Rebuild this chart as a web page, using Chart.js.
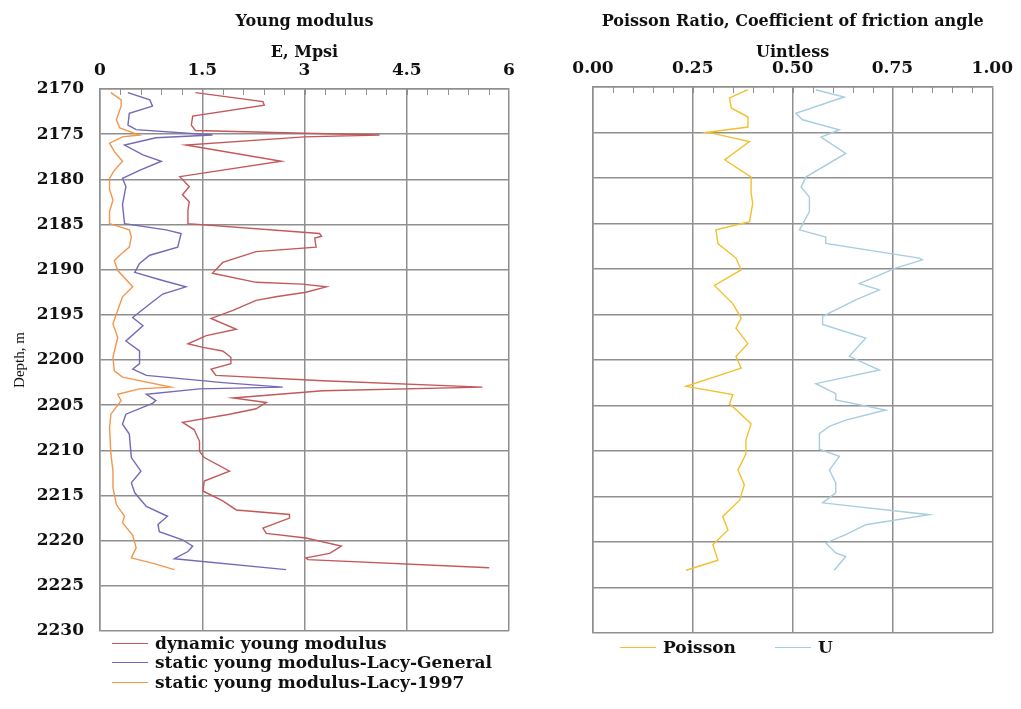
<!DOCTYPE html>
<html>
<head>
<meta charset="utf-8">
<script src="https://cdn.jsdelivr.net/npm/chart.js@4/dist/chart.umd.min.js"></script>
<style>
  body { margin: 0; background: #fff; }
  #page { position: relative; width: 1021px; height: 709px; overflow: hidden; }
  .box { position: absolute; top: 0; height: 709px; }
  #leftBox { left: 0; width: 530px; }
  #rightBox { left: 540px; width: 481px; }
  .legend { position: absolute; font: bold 17px "DejaVu Serif", serif; color: #111; }
  .legend .item { position: absolute; display: flex; align-items: center; white-space: nowrap; }
  .legend .swatch { display: inline-block; width: 36px; height: 0; border-top-width: 1.5px; border-top-style: solid; margin-right: 7px; }
</style>
</head>
<body>
<div id="page">
  <div class="box" id="leftBox"><canvas id="youngChart"></canvas></div>
  <div class="box" id="rightBox"><canvas id="poissonChart"></canvas></div>
  <div class="legend" id="youngLegend"></div>
  <div class="legend" id="poissonLegend"></div>
</div>
<script>
// Depth axis
const depthMin = 2170;
const depthMax = 2230;

// Young modulus panel, x ticks in Mpsi
const eTicks = [0, 1.5, 3, 4.5, 6];

// dynamic young modulus
const dynDepth = [2170.4, 2171.4, 2171.8, 2173.0, 2174.0, 2174.6, 2174.9, 2175.1, 2175.3, 2176.2, 2178.0, 2179.7,
  2180.8, 2181.7, 2182.5, 2183.4, 2184.9, 2186.0, 2186.3, 2186.5, 2187.5, 2188.0, 2189.2, 2190.4, 2191.4, 2191.6,
  2191.9, 2192.5, 2193.0, 2193.4, 2194.5, 2195.4, 2196.6, 2197.3, 2198.2, 2198.6, 2199.0, 2199.7, 2200.4, 2201.0,
  2201.7, 2202.3, 2203.0, 2203.4, 2204.2, 2204.7, 2205.4, 2206.0, 2206.9, 2207.7, 2209.0, 2210.1, 2210.8, 2212.3,
  2213.4, 2214.5, 2215.6, 2216.6, 2217.1, 2217.5, 2218.6, 2219.2, 2219.7, 2220.6, 2221.4, 2221.9, 2222.1, 2223.0];
const dynE = [1.40, 2.39, 2.41, 1.36, 1.34, 1.40, 3.00, 4.10, 3.00, 1.26, 2.66, 1.17,
  1.31, 1.21, 1.31, 1.29, 1.29, 3.22, 3.25, 3.15, 3.17, 2.29, 1.80, 1.65, 2.29, 2.97,
  3.32, 3.02, 2.58, 2.29, 1.95, 1.63, 2.00, 1.56, 1.29, 1.51, 1.80, 1.92, 1.92, 1.63,
  1.70, 3.27, 5.61, 3.27, 1.95, 2.44, 2.29, 1.90, 1.21, 1.38, 1.46, 1.46, 1.53, 1.90,
  1.53, 1.51, 1.80, 2.00, 2.78, 2.78, 2.39, 2.44, 3.02, 3.54, 3.37, 3.02, 3.05, 5.71];

// static young modulus - Lacy General
const genDepth = [2170.4, 2171.2, 2171.9, 2172.7, 2174.0, 2174.5, 2175.1, 2175.4, 2176.2, 2177.3, 2178.0, 2179.0,
  2179.9, 2180.8, 2182.8, 2184.9, 2185.6, 2186.0, 2187.5, 2188.4, 2189.3, 2190.3, 2191.2, 2191.9, 2192.7, 2193.8,
  2195.3, 2196.2, 2197.9, 2199.0, 2200.4, 2201.0, 2201.7, 2202.5, 2203.0, 2203.2, 2203.8, 2204.5, 2204.8, 2206.0,
  2207.1, 2208.2, 2210.8, 2212.3, 2213.6, 2214.7, 2216.2, 2217.3, 2218.2, 2219.0, 2219.9, 2220.6, 2221.2, 2222.0, 2223.2];
const genE = [0.41, 0.73, 0.77, 0.43, 0.41, 0.53, 1.65, 0.82, 0.36, 0.63, 0.90, 0.58,
  0.33, 0.38, 0.33, 0.36, 0.97, 1.19, 1.14, 0.73, 0.58, 0.51, 0.92, 1.26, 0.92, 0.73,
  0.48, 0.63, 0.38, 0.58, 0.58, 0.48, 0.68, 1.80, 2.68, 1.46, 0.68, 0.82, 0.77, 0.38,
  0.33, 0.43, 0.46, 0.60, 0.46, 0.51, 0.68, 0.99, 0.85, 0.87, 1.21, 1.36, 1.29, 1.09, 2.73];

// static young modulus - Lacy 1997
const lacyDepth = [2170.4, 2171.2, 2171.9, 2173.4, 2174.3, 2175.1, 2175.3, 2176.0, 2176.9, 2178.0, 2179.0, 2179.9,
  2181.1, 2182.3, 2183.6, 2184.9, 2185.6, 2186.4, 2187.5, 2188.4, 2189.0, 2190.1, 2191.9, 2193.0, 2194.5, 2196.0,
  2197.5, 2199.7, 2201.2, 2201.9, 2203.0, 2203.2, 2203.8, 2204.5, 2206.0, 2207.5, 2210.4, 2212.3, 2214.1, 2216.0,
  2217.3, 2218.0, 2219.4, 2220.8, 2221.9, 2222.6, 2223.2];
const lacyE = [0.16, 0.31, 0.31, 0.24, 0.29, 0.58, 0.33, 0.14, 0.21, 0.33, 0.21, 0.14,
  0.14, 0.19, 0.14, 0.14, 0.43, 0.46, 0.43, 0.29, 0.21, 0.26, 0.48, 0.33, 0.26, 0.19,
  0.26, 0.19, 0.21, 0.33, 1.04, 0.58, 0.26, 0.31, 0.16, 0.14, 0.16, 0.19, 0.19, 0.24,
  0.36, 0.33, 0.48, 0.53, 0.46, 0.82, 1.09];

// Poisson / friction panel, x ticks unitless
const ratioTicks = [0, 0.25, 0.5, 0.75, 1];

const poissonDepth = [2170.3, 2171.2, 2172.3, 2173.3, 2174.4, 2175.0, 2175.1, 2176.0, 2178.0, 2179.9, 2181.7, 2182.8,
  2184.8, 2185.7, 2187.2, 2188.8, 2190.1, 2191.8, 2193.8, 2195.4, 2196.5, 2198.2, 2199.6, 2200.9, 2202.9, 2203.8,
  2204.8, 2207.0, 2208.8, 2210.3, 2212.1, 2213.7, 2215.4, 2217.2, 2218.7, 2220.3, 2222.0, 2223.1];
const poissonVal = [0.388, 0.342, 0.346, 0.388, 0.388, 0.283, 0.300, 0.392, 0.330, 0.396, 0.396, 0.400,
  0.392, 0.308, 0.313, 0.358, 0.371, 0.304, 0.350, 0.371, 0.358, 0.388, 0.358, 0.371, 0.233, 0.350,
  0.342, 0.396, 0.383, 0.383, 0.363, 0.379, 0.367, 0.325, 0.338, 0.300, 0.313, 0.233];

const uDepth = [2170.3, 2171.1, 2172.9, 2173.6, 2174.7, 2175.5, 2177.3, 2179.9, 2181.0, 2182.1, 2183.7, 2185.7,
  2186.5, 2187.2, 2188.8, 2189.0, 2189.9, 2191.6, 2192.3, 2193.4, 2195.2, 2196.1, 2197.6, 2199.6, 2201.1, 2202.6,
  2203.7, 2204.4, 2205.5, 2206.6, 2207.3, 2208.1, 2209.8, 2210.6, 2212.1, 2213.5, 2214.6, 2215.7, 2217.0, 2218.1,
  2219.2, 2220.1, 2221.2, 2221.6, 2223.1];
const uVal = [0.558, 0.629, 0.508, 0.525, 0.617, 0.571, 0.633, 0.533, 0.521, 0.542, 0.542, 0.517,
  0.583, 0.583, 0.817, 0.825, 0.758, 0.667, 0.717, 0.658, 0.575, 0.575, 0.683, 0.642, 0.717, 0.558,
  0.608, 0.608, 0.733, 0.633, 0.592, 0.567, 0.567, 0.617, 0.592, 0.608, 0.608, 0.575, 0.842, 0.683,
  0.633, 0.583, 0.608, 0.633, 0.604];

const toPoints = (xs, depths) => xs.map((v, i) => ({ x: v, y: depths[i] }));

const serif = '"DejaVu Serif", serif';
const gridColor = '#8f8f8f';

// short tick marks along the inside of the top border
const minorTicks = {
  id: 'minorTicks',
  afterDatasetsDraw(chart, args, opts) {
    const { ctx, chartArea, scales: { x } } = chart;
    ctx.save();
    ctx.strokeStyle = gridColor;
    ctx.lineWidth = 1;
    for (let v = x.min + opts.step; v < x.max - 1e-9; v += opts.step) {
      const px = Math.round(x.getPixelForValue(v)) + 0.5;
      ctx.beginPath();
      ctx.moveTo(px, chartArea.top);
      ctx.lineTo(px, chartArea.top + 6);
      ctx.stroke();
    }
    ctx.restore();
  }
};

function logChart(canvasId, cfg) {
  const ctx = document.getElementById(canvasId).getContext('2d');
  return new Chart(ctx, {
    type: 'scatter',
    data: {
      datasets: cfg.series.map(s => ({
        label: s.label,
        data: s.data,
        showLine: true,
        borderColor: s.color,
        backgroundColor: s.color,
        borderWidth: 1.4,
        pointRadius: 0,
        tension: 0
      }))
    },
    plugins: [minorTicks],
    options: {
      responsive: true,
      maintainAspectRatio: false,
      animation: false,
      layout: { padding: cfg.padding },
      scales: {
        x: {
          type: 'linear',
          position: 'top',
          min: cfg.ticks[0],
          max: cfg.ticks[cfg.ticks.length - 1],
          afterBuildTicks: scale => { scale.ticks = cfg.ticks.map(v => ({ value: v })); },
          afterFit: scale => { scale.height = cfg.top; },
          grid: { color: gridColor, lineWidth: 1.5, drawTicks: false },
          border: { color: gridColor, width: 1.5 },
          ticks: {
            padding: 8,
            color: '#111',
            font: { family: serif, size: 17, weight: 'bold' },
            callback: cfg.tickFormat
          },
          title: {
            display: true,
            text: cfg.title,
            color: '#111',
            padding: { top: 6, bottom: 0 },
            font: { family: serif, size: 16, weight: 'bold', lineHeight: 1.94 }
          }
        },
        y: {
          type: 'linear',
          reverse: true,
          min: depthMin,
          max: depthMax,
          afterFit: scale => { scale.width = cfg.left; },
          grid: { color: gridColor, lineWidth: 1.5, drawTicks: false },
          border: { color: gridColor, width: 1.5 },
          ticks: {
            display: cfg.showDepth,
            stepSize: 5,
            padding: 16,
            color: '#111',
            font: { family: serif, size: 17, weight: 'bold' },
            callback: v => String(v)
          },
          title: {
            display: cfg.showDepth,
            text: 'Depth, m',
            color: '#111',
            padding: { top: 11, bottom: 0 },
            font: { family: '"Liberation Serif", serif', size: 15 }
          }
        }
      },
      plugins: {
        legend: { display: false },
        tooltip: { enabled: false },
        minorTicks: { step: cfg.minorStep }
      }
    }
  });
}

const youngChart = logChart('youngChart', {
  title: ['Young modulus', 'E, Mpsi'],
  ticks: eTicks,
  minorStep: 0.3,
  tickFormat: v => String(v),
  top: 89,
  left: 100,
  showDepth: true,
  padding: { top: 0, left: 0, right: 21, bottom: 78 },
  series: [
    { label: 'dynamic young modulus', data: toPoints(dynE, dynDepth), color: '#c4585a' },
    { label: 'static young modulus-Lacy-General', data: toPoints(genE, genDepth), color: '#7468b8' },
    { label: 'static young modulus-Lacy-1997', data: toPoints(lacyE, lacyDepth), color: '#f3964a' }
  ]
});

const poissonChart = logChart('poissonChart', {
  title: ['Poisson Ratio, Coefficient of friction angle', 'Uintless'],
  ticks: ratioTicks,
  minorStep: 0.05,
  tickFormat: v => v.toFixed(2),
  top: 87,
  left: 53,
  showDepth: false,
  padding: { top: 0, left: 0, right: 28, bottom: 76 },
  series: [
    { label: 'Poisson', data: toPoints(poissonVal, poissonDepth), color: '#f2c02e' },
    { label: 'U', data: toPoints(uVal, uDepth), color: '#a6cde0' }
  ]
});

// HTML legends built from the chart datasets
function buildLegend(chart, el, spots) {
  chart.data.datasets.forEach((ds, i) => {
    const item = document.createElement('div');
    item.className = 'item';
    item.style.left = spots[i][0] + 'px';
    item.style.top = spots[i][1] + 'px';
    const sw = document.createElement('span');
    sw.className = 'swatch';
    sw.style.borderTopColor = ds.borderColor;
    item.appendChild(sw);
    item.appendChild(document.createTextNode(ds.label));
    el.appendChild(item);
  });
}
buildLegend(youngChart, document.getElementById('youngLegend'), [[112, 633], [112, 652], [112, 672]]);
buildLegend(poissonChart, document.getElementById('poissonLegend'), [[620, 637], [775, 637]]);
</script>
</body>
</html>
